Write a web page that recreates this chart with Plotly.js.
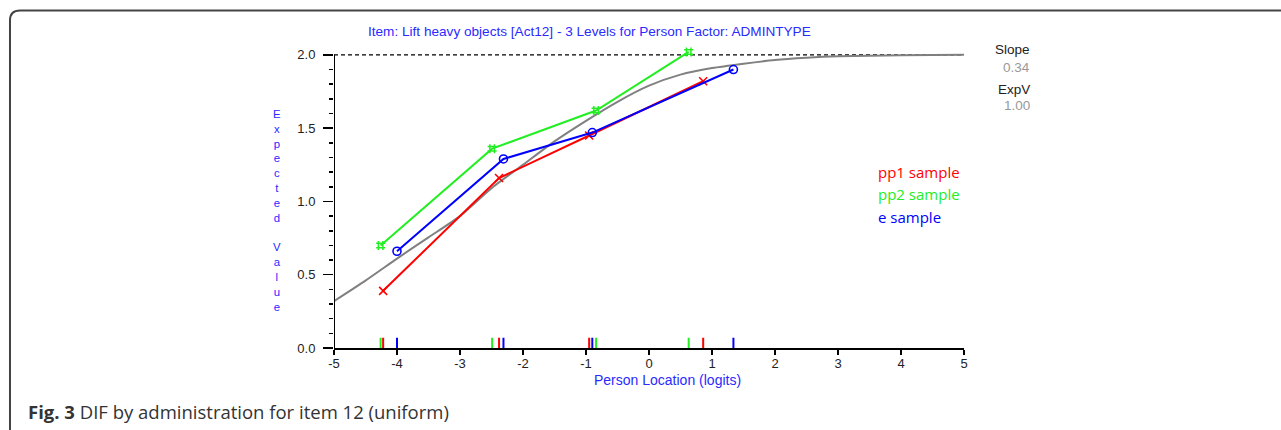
<!DOCTYPE html>
<html>
<head>
<meta charset="utf-8">
<script src="https://cdn.plot.ly/plotly-3.0.1.min.js"></script>
<style>
  html, body { margin: 0; padding: 0; background: #fff; }
  #chart { width: 1281px; height: 430px; }
</style>
</head>
<body>
<div id="chart"></div>
<script>
// ---- Data ----
// Group labels
const groupNames = ["pp1 sample", "pp2 sample", "e sample"];

// Class-interval mean locations (logits) and observed mean scores per group
const pp1X = [-4.22, -2.38, -0.95, 0.86];
const pp1Y = [0.39, 1.16, 1.45, 1.82];

const pp2X = [-4.26, -2.49, -0.84, 0.63];
const pp2Y = [0.70, 1.36, 1.62, 2.02];

const eX = [-4.00, -2.31, -0.90, 1.34];
const eY = [0.66, 1.29, 1.47, 1.90];

// Expected value curve (ICC), read at points along the curve
const iccX = [-5, -4.5, -4, -3.5, -3, -2.5, -2, -1.5, -1, -0.5, 0, 0.5, 1, 1.5, 2, 2.5, 3, 4, 5];
const iccY = [0.32, 0.46, 0.61, 0.755, 0.90, 1.09, 1.25, 1.41, 1.55, 1.68, 1.79, 1.865, 1.91, 1.94, 1.965, 1.98, 1.99, 1.997, 2.0];

// Maximum score reference line
const maxScoreX = [-5, 5];
const maxScoreY = [2, 2];

// Axis tick labels
const xTicks = [-5, -4, -3, -2, -1, 0, 1, 2, 3, 4, 5];
const yTicks = [0, 0.5, 1.0, 1.5, 2.0];
const yTickText = ["0.0", "0.5", "1.0", "1.5", "2.0"];
const yMinorTicks = [0.1, 0.2, 0.3, 0.4, 0.6, 0.7, 0.8, 0.9, 1.1, 1.2, 1.3, 1.4, 1.6, 1.7, 1.8, 1.9];
const yMin = 0, yMax = 2;

// Side statistics
const slopeValue = "0.34";
const expVValue = "1.00";

// ---- Build figure ----
const RED = "#ff0000", GREEN = "#22ee22", BLUE = "#0000ff";
const RUG_H = 0.07;

function rug(xs) {
  const x = [], y = [];
  xs.forEach(v => { x.push(v, v, null); y.push(0, RUG_H, null); });
  return { x, y };
}

const rPP1 = rug(pp1X), rPP2 = rug(pp2X), rE = rug(eX);

const traces = [
  { x: maxScoreX, y: maxScoreY, mode: "lines", line: { color: "#000", width: 1.3, dash: "4px,3px" }, hoverinfo: "skip" },
  { x: iccX, y: iccY, mode: "lines", line: { color: "#808080", width: 2, shape: "spline", smoothing: 0.6 } },
  { x: rPP2.x, y: rPP2.y, mode: "lines", line: { color: GREEN, width: 2 } },
  { x: rPP1.x, y: rPP1.y, mode: "lines", line: { color: RED, width: 2 } },
  { x: rE.x, y: rE.y, mode: "lines", line: { color: BLUE, width: 2 } },
  { x: pp1X, y: pp1Y, name: groupNames[0], mode: "lines+markers", cliponaxis: false,
    line: { color: RED, width: 2 }, marker: { symbol: "x-thin-open", size: 8, color: RED, line: { color: RED, width: 1.6 } } },
  { x: pp2X, y: pp2Y, name: groupNames[1], mode: "lines+markers", cliponaxis: false,
    line: { color: GREEN, width: 2 }, marker: { symbol: "hash-open", size: 9, color: GREEN, line: { color: GREEN, width: 1.5 } } },
  { x: eX, y: eY, name: groupNames[2], mode: "lines+markers", cliponaxis: false,
    line: { color: BLUE, width: 2 }, marker: { symbol: "circle-open", size: 8, color: BLUE, line: { color: BLUE, width: 1.6 } } }
];

const SANS = "Liberation Sans, Arial, sans-serif";
const AX_FONT = { family: SANS, size: 13, color: "#222" };
const BLUE_T = "#2a2aff";

const yTitleLetters = "Expected Value".split("").map(c => c === " " ? "&nbsp;" : c).join("<br>");

const layout = {
  width: 1281, height: 430,
  margin: { l: 334, r: 317, t: 49, b: 82, pad: 0 },
  paper_bgcolor: "#fff", plot_bgcolor: "#fff",
  showlegend: false,
  xaxis: {
    range: [-5, 5], tickvals: xTicks, ticktext: xTicks.map(String),
    showgrid: false, zeroline: false, showline: true, linecolor: "#000", linewidth: 2,
    ticks: "outside", ticklen: 5, tickwidth: 1.5, tickcolor: "#000", tickfont: AX_FONT,
    ticklabelstandoff: -3
  },
  yaxis: {
    range: [0, 2.04], tickvals: yTicks, ticktext: yTickText,
    showgrid: false, zeroline: false, showline: false,
    ticks: "outside", ticklen: 10, tickwidth: 1.5, tickcolor: "#000", tickfont: AX_FONT,
    ticklabelstandoff: 5,
    minor: { tickvals: yMinorTicks, ticks: "outside", ticklen: 4, tickwidth: 1.5, tickcolor: "#000", showgrid: false }
  },
  shapes: [
    { type: "line", xref: "x", yref: "y", x0: -5, x1: -5, y0: yMin, y1: yMax, line: { color: "#000", width: 2 } },
    { type: "path", xref: "paper", yref: "paper",
      path: "M -0.5143,-0.35 L -0.5143,1.0954 Q -0.5143,1.1288 -0.4984,1.1288 L 1.55,1.1288",
      line: { color: "#444", width: 2 } }
  ],
  annotations: [
    { text: "Item: Lift heavy objects [Act12] - 3 Levels for Person Factor: ADMINTYPE",
      xref: "paper", yref: "paper", x: 0.4063, y: 1.0602, xanchor: "center", yanchor: "middle", showarrow: false,
      font: { family: SANS, size: 13.6, color: BLUE_T } },
    { text: yTitleLetters, xref: "paper", yref: "paper", x: -0.0905, y: 0.4582, xanchor: "center", yanchor: "middle",
      showarrow: false, align: "center",
      font: { family: SANS, size: 11.4, color: BLUE_T } },
    { text: "Person Location (logits)", xref: "paper", yref: "paper", x: 0.5286, y: -0.1070, xanchor: "center", yanchor: "middle",
      showarrow: false, font: { family: SANS, size: 14, color: BLUE_T } },
    { text: groupNames[0], xref: "paper", yref: "paper", x: 0.8603, y: 0.5886, xanchor: "left", yanchor: "middle", showarrow: false,
      font: { family: "Open Sans, sans-serif", size: 15, color: RED } },
    { text: groupNames[1], xref: "paper", yref: "paper", x: 0.8603, y: 0.5151, xanchor: "left", yanchor: "middle", showarrow: false,
      font: { family: "Open Sans, sans-serif", size: 15, color: GREEN } },
    { text: groupNames[2], xref: "paper", yref: "paper", x: 0.8603, y: 0.4381, xanchor: "left", yanchor: "middle", showarrow: false,
      font: { family: "Open Sans, sans-serif", size: 15, color: BLUE } },
    { text: "Slope", xref: "paper", yref: "paper", x: 1.108, y: 1.0, xanchor: "right", yanchor: "middle", showarrow: false,
      font: { family: SANS, size: 13.5, color: "#222" } },
    { text: slopeValue, xref: "paper", yref: "paper", x: 1.108, y: 0.9365, xanchor: "right", yanchor: "middle", showarrow: false,
      font: { family: SANS, size: 13.5, color: "#999" } },
    { text: "ExpV", xref: "paper", yref: "paper", x: 1.108, y: 0.8662, xanchor: "right", yanchor: "middle", showarrow: false,
      font: { family: SANS, size: 13.5, color: "#222" } },
    { text: expVValue, xref: "paper", yref: "paper", x: 1.108, y: 0.8127, xanchor: "right", yanchor: "middle", showarrow: false,
      font: { family: SANS, size: 13.5, color: "#999" } },
    { text: "<b>Fig. 3</b> DIF by administration for item 12 (uniform)", xref: "paper", yref: "paper",
      x: -0.4889, y: -0.2140, xanchor: "left", yanchor: "middle", showarrow: false,
      font: { family: "Open Sans, sans-serif", size: 18.5, color: "#333" } }
  ]
};

Plotly.newPlot("chart", traces, layout, { displayModeBar: false, staticPlot: true });
</script>
</body>
</html>
